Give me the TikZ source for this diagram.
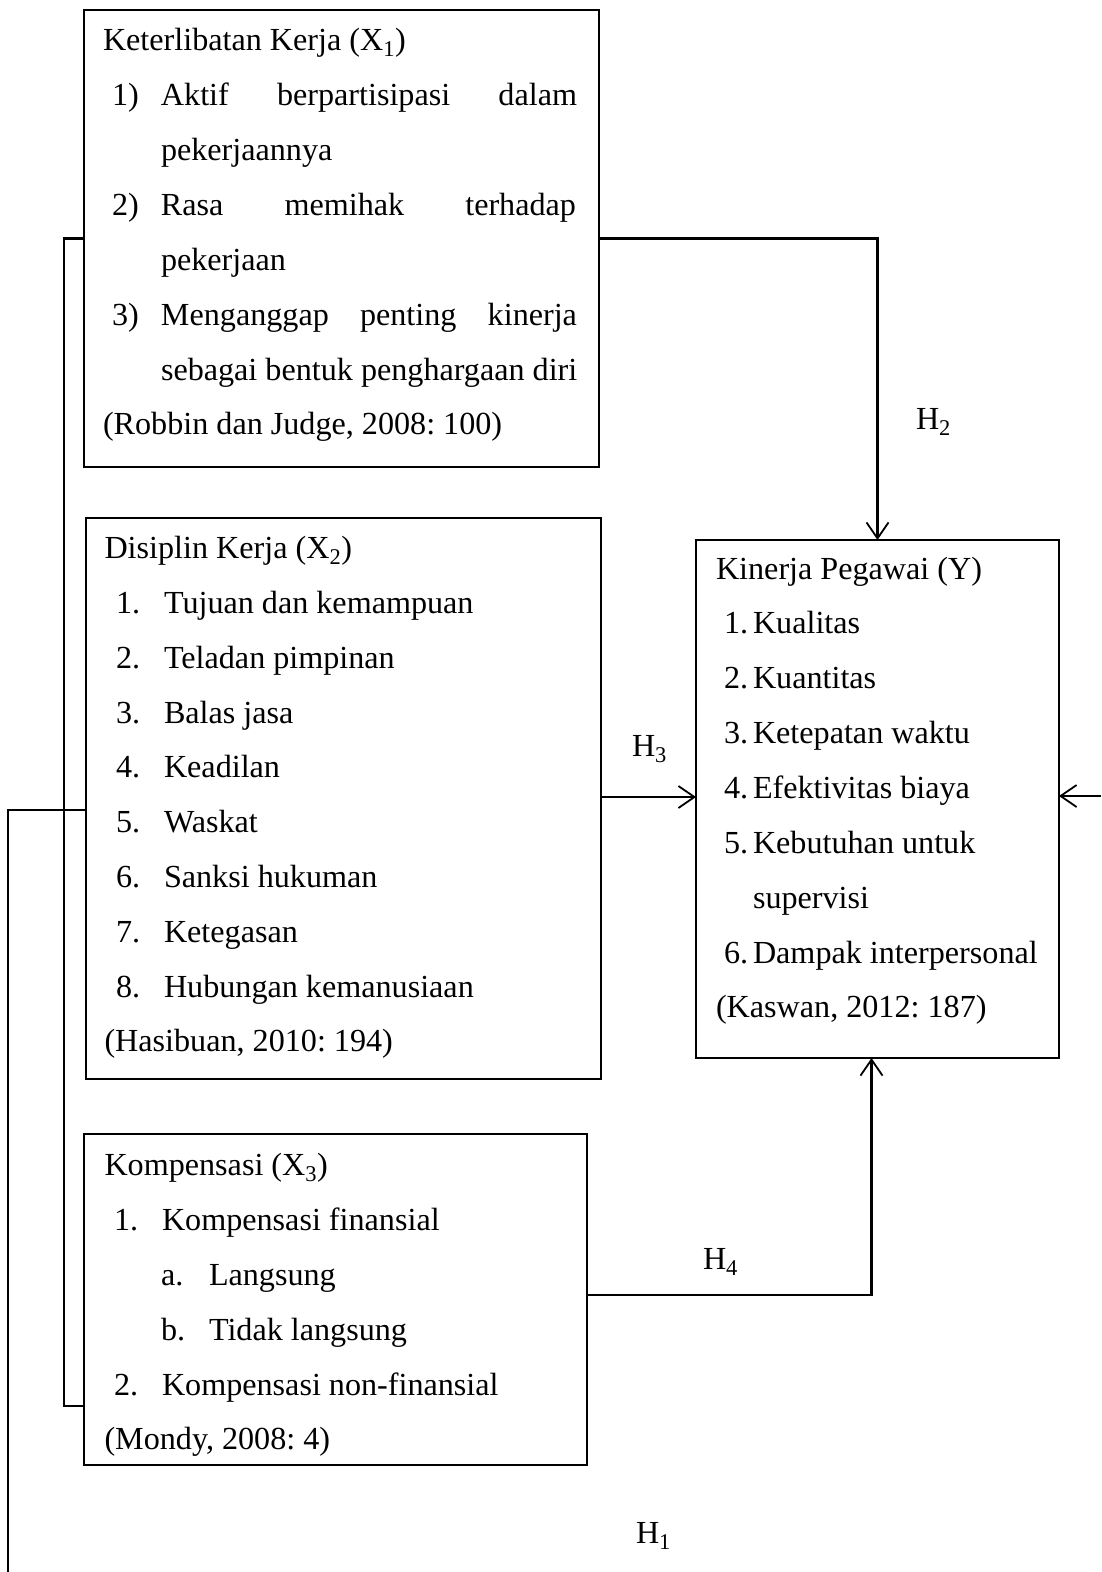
\documentclass[tikz,border=0pt]{standalone}
\usepackage{fontspec}
\setmainfont{Liberation Serif}
\usetikzlibrary{arrows.meta,calc}
\newcommand{\lbl}[2]{\makebox[#1][l]{#2}}
\frenchspacing
\begin{document}
\begin{tikzpicture}[x=1pt,y=-1pt,
  font=\fontsize{32.15pt}{40pt}\selectfont,
  boxnode/.style={draw, line width=1.2pt, inner sep=0pt, outer sep=0pt, anchor=north west, rectangle},
  txt/.style={anchor=base west, inner sep=0pt, outer sep=0pt},
  conn/.style={line width=2.4pt},
  arrtip/.style={-{Straight Barb[length=16pt,width=22pt,line width=1.8pt]}}]
\useasboundingbox (0,0) rectangle (1101,1572);

% boxes
\node[boxnode, minimum width=515pt, minimum height=457pt] (x1) at (84,10) {};
\node[boxnode, minimum width=515pt, minimum height=561pt] (x2) at (86,518) {};
\node[boxnode, minimum width=503pt, minimum height=331pt] (x3) at (84,1134) {};
\node[boxnode, minimum width=363pt, minimum height=518pt] (y) at (696,540) {};

% X1 text
\node[txt] (x1t) at (103,50.5) {Keterlibatan Kerja (X\textsubscript{1})};
\node[txt] (x1a) at (112,105) {\lbl{49pt}{1)}\hbox to 416pt{Aktif\hfill berpartisipasi\hfill dalam}};
\node[txt] (x1b) at (161,160) {pekerjaannya};
\node[txt] (x1c) at (112,215) {\lbl{49pt}{2)}\hbox to 415pt{Rasa\hfill memihak\hfill terhadap}};
\node[txt] (x1d) at (161,270) {pekerjaan};
\node[txt] (x1e) at (112,325) {\lbl{49pt}{3)}\hbox to 416pt{Menganggap\hfill penting\hfill kinerja}};
\node[txt] (x1f) at (161,380) {sebagai bentuk penghargaan diri};
\node[txt] (x1g) at (103,434.5) {(Robbin dan Judge, 2008: 100)};

% X2 text
\node[txt] (x2t) at (104.5,558) {Disiplin Kerja (X\textsubscript{2})};
\node[txt] (x2a) at (116,613) {\lbl{48pt}{1.}Tujuan dan kemampuan};
\node[txt] (x2b) at (116,668) {\lbl{48pt}{2.}Teladan pimpinan};
\node[txt] (x2c) at (116,723) {\lbl{48pt}{3.}Balas jasa};
\node[txt] (x2d) at (116,777.5) {\lbl{48pt}{4.}Keadilan};
\node[txt] (x2e) at (116,832.5) {\lbl{48pt}{5.}Waskat};
\node[txt] (x2f) at (116,887.5) {\lbl{48pt}{6.}Sanksi hukuman};
\node[txt] (x2g) at (116,942) {\lbl{48pt}{7.}Ketegasan};
\node[txt] (x2h) at (116,997) {\lbl{48pt}{8.}Hubungan kemanusiaan};
\node[txt] (x2i) at (104.5,1051.5) {(Hasibuan, 2010: 194)};

% Y text
\node[txt] (yt) at (716,579) {Kinerja Pegawai (Y)};
\node[txt] (ya) at (724,633.5) {\lbl{29pt}{1.}Kualitas};
\node[txt] (yb) at (724,688.5) {\lbl{29pt}{2.}Kuantitas};
\node[txt] (yc) at (724,743) {\lbl{29pt}{3.}Ketepatan waktu};
\node[txt] (yd) at (724,798) {\lbl{29pt}{4.}Efektivitas biaya};
\node[txt] (ye) at (724,853) {\lbl{29pt}{5.}Kebutuhan untuk};
\node[txt] (yf) at (753,908) {supervisi};
\node[txt] (yg) at (724,963) {\lbl{29pt}{6.}Dampak interpersonal};
\node[txt] (yh) at (716,1017.5) {(Kaswan, 2012: 187)};

% X3 text
\node[txt] (x3t) at (104.5,1175) {Kompensasi (X\textsubscript{3})};
\node[txt] (x3a) at (114,1230) {\lbl{48pt}{1.}Kompensasi finansial};
\node[txt] (x3b) at (161,1285) {\lbl{48pt}{a.}Langsung};
\node[txt] (x3c) at (161,1340) {\lbl{48pt}{b.}Tidak langsung};
\node[txt] (x3d) at (114,1395) {\lbl{48pt}{2.}Kompensasi non-finansial};
\node[txt] (x3e) at (104.5,1449.5) {(Mondy, 2008: 4)};

% hypothesis labels
\node[txt] (h2) at (916,429) {H\textsubscript{2}};
\node[txt] (h3) at (632,756) {H\textsubscript{3}};
\node[txt] (h4) at (703,1269) {H\textsubscript{4}};
\node[txt] (h1) at (636,1543) {H\textsubscript{1}};

% coordinates for free ends / bends
\coordinate (bT) at (64,238.5);
\coordinate (bM) at (64,810);
\coordinate (bB) at (64,1406);
\coordinate (hL) at (8,810);
\coordinate (hLend) at (8,1572);
\coordinate (rEnd) at (1101,796);

% connectors
\draw[conn,arrtip] (x1.east) -| (y.north);
\draw[conn,arrtip] (x2.east |- 0,797) -- (y.west |- 0,797);
\draw[conn,arrtip] ([yshift=4.5pt]x3.east) -| ([xshift=-6pt]y.south);
\draw[conn,arrtip] (rEnd) -- (y.east |- rEnd);

% left bracket
\draw[conn] (x1.west) -- (bT) -- (bB) -- (x3.west |- bB);
\draw[conn] (bM) -- (x2.west |- bM);
\draw[conn] (hLend) -- (hL) -- (bM);
\end{tikzpicture}
\end{document}
